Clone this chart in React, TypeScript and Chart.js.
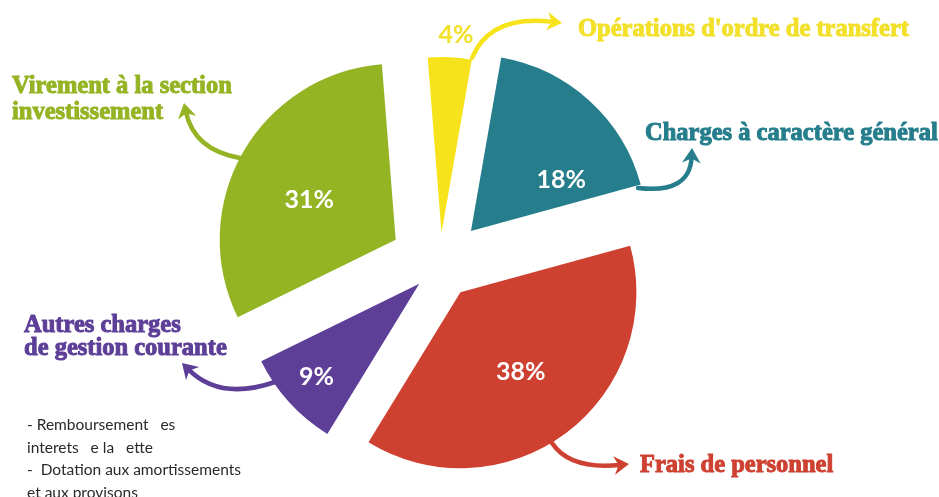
import React, { useEffect, useRef } from "react";
import { Chart, registerables } from "chart.js";

Chart.register(...registerables);

// ---- data ----
const categories: string[][] = [
  ["Opérations d'ordre de transfert"],
  ["Charges à caractère général"],
  ["Frais de personnel"],
  ["Autres charges", "de gestion courante"],
  ["Virement à la section", "investissement"],
];
const shares = [4, 18, 38, 9, 31];
const percentLabels = ["4%", "18%", "38%", "9%", "31%"];
const noteLines = [
  "- Remboursement   es",
  "interets   e la   ette",
  "-  Dotation aux amortissements",
  "et aux provisons",
];

// ---- styles ----
const sliceColors = ["#F6E31C", "#267E8D", "#CE4131", "#5E3F98", "#95B424"];
const textColors = ["#F2E02A", "#267E8D", "#CE4131", "#5E3F98", "#95B424"];
const pctColors = ["#F2E02A", "#FFFFFF", "#FFFFFF", "#FFFFFF", "#FFFFFF"];
const explodeDist = [32, 46, 34, 28, 51];
const pctRadiusFrac = [1.13, 0.59, 0.57, 0.79, 0.54];
const pctAngleShift = [1.5, 18, 0, 0, -5];
const RADIUS = 176;
const labelAnchors = [
  { x: 578, y: 36, gap: 0 },
  { x: 645, y: 140, gap: 0 },
  { x: 640, y: 472, gap: 0 },
  { x: 24, y: 332, gap: 23 },
  { x: 12, y: 93, gap: 26 },
];
// decorative arrows: start, control, tip
const arrows = [
  [472, 58, 490, 14, 562, 23],
  [638, 188, 690, 194, 692, 148],
  [552, 443, 570, 470, 629, 464],
  [275, 382, 220, 401, 182, 363],
  [240, 158, 194, 150, 184, 103],
];

function drawArrow(ctx: CanvasRenderingContext2D, a: number[], color: string) {
  const [x0, y0, cx, cy, x1, y1] = a;
  const ang = Math.atan2(y1 - cy, x1 - cx);
  const head = 15;
  const ex = x1 - Math.cos(ang) * head * 0.6;
  const ey = y1 - Math.sin(ang) * head * 0.6;
  ctx.save();
  ctx.strokeStyle = color;
  ctx.fillStyle = color;
  ctx.lineWidth = 4.5;
  ctx.lineCap = "round";
  ctx.beginPath();
  ctx.moveTo(x0, y0);
  ctx.quadraticCurveTo(cx, cy, ex, ey);
  ctx.stroke();
  const bx = x1 - Math.cos(ang) * head;
  const by = y1 - Math.sin(ang) * head;
  const px = Math.cos(ang + Math.PI / 2) * head * 0.62;
  const py = Math.sin(ang + Math.PI / 2) * head * 0.62;
  const nx = x1 - Math.cos(ang) * head * 0.7;
  const ny = y1 - Math.sin(ang) * head * 0.7;
  ctx.beginPath();
  ctx.moveTo(x1, y1);
  ctx.lineTo(bx + px, by + py);
  ctx.lineTo(nx, ny);
  ctx.lineTo(bx - px, by - py);
  ctx.closePath();
  ctx.fill();
  ctx.restore();
}

const explodePlugin = {
  id: "explodeSlices",
  afterUpdate(chart: any) {
    const meta = chart.getDatasetMeta(0);
    meta.data.forEach((arc: any, i: number) => {
      const mid = (arc.startAngle + arc.endAngle) / 2;
      arc.x += Math.cos(mid) * explodeDist[i];
      arc.y += Math.sin(mid) * explodeDist[i];
    });
  },
};

const overlayPlugin = {
  id: "overlayText",
  afterDatasetsDraw(chart: any) {
    const ctx: CanvasRenderingContext2D = chart.ctx;
    const meta = chart.getDatasetMeta(0);
    ctx.save();
    // percentages
    ctx.textAlign = "center";
    ctx.textBaseline = "middle";
    ctx.font = 'bold 25px "Lato", sans-serif';
    meta.data.forEach((arc: any, i: number) => {
      const mid = (arc.startAngle + arc.endAngle) / 2 + (pctAngleShift[i] * Math.PI) / 180;
      const r = arc.outerRadius * pctRadiusFrac[i];
      ctx.fillStyle = pctColors[i];
      ctx.fillText(percentLabels[i], arc.x + Math.cos(mid) * r, arc.y + Math.sin(mid) * r);
    });
    // arrows
    arrows.forEach((a, i) => drawArrow(ctx, a, sliceColors[i]));
    // category labels
    ctx.textAlign = "left";
    ctx.textBaseline = "alphabetic";
    ctx.font = 'bold 24.5px "Liberation Serif", serif';
    ctx.lineWidth = 1;
    ctx.lineJoin = "round";
    const labels = chart.data.labels as string[][];
    labels.forEach((lines, i) => {
      const an = labelAnchors[i];
      ctx.fillStyle = textColors[i];
      ctx.strokeStyle = textColors[i];
      lines.forEach((ln, j) => {
        ctx.fillText(ln, an.x, an.y + j * an.gap);
        ctx.strokeText(ln, an.x, an.y + j * an.gap);
      });
    });
    // notes
    ctx.font = '15.5px "Lato", sans-serif';
    ctx.fillStyle = "#2a2a2a";
    noteLines.forEach((ln, j) => ctx.fillText(ln, 27, 430 + j * 22.7));
    ctx.restore();
  },
};

export default function App() {
  const ref = useRef<HTMLCanvasElement | null>(null);
  useEffect(() => {
    document.body.style.margin = "0";
    const canvas = ref.current!;
    const chart = new Chart(canvas, {
      type: "pie",
      data: {
        labels: categories as any,
        datasets: [
          {
            data: shares,
            backgroundColor: sliceColors,
            borderWidth: 0,
          },
        ],
      },
      options: {
        responsive: false,
        animation: false,
        events: [],
        rotation: -4.5,
        radius: RADIUS,
        layout: { padding: { left: 0, right: 59, top: 33, bottom: 0 } },
        plugins: {
          legend: { display: false },
          tooltip: { enabled: false },
        },
      } as any,
      plugins: [explodePlugin, overlayPlugin],
    });
    return () => chart.destroy();
  }, []);
  return (
    <canvas
      ref={ref}
      width={939}
      height={497}
      style={{ display: "block", width: 939, height: 497 }}
    />
  );
}
